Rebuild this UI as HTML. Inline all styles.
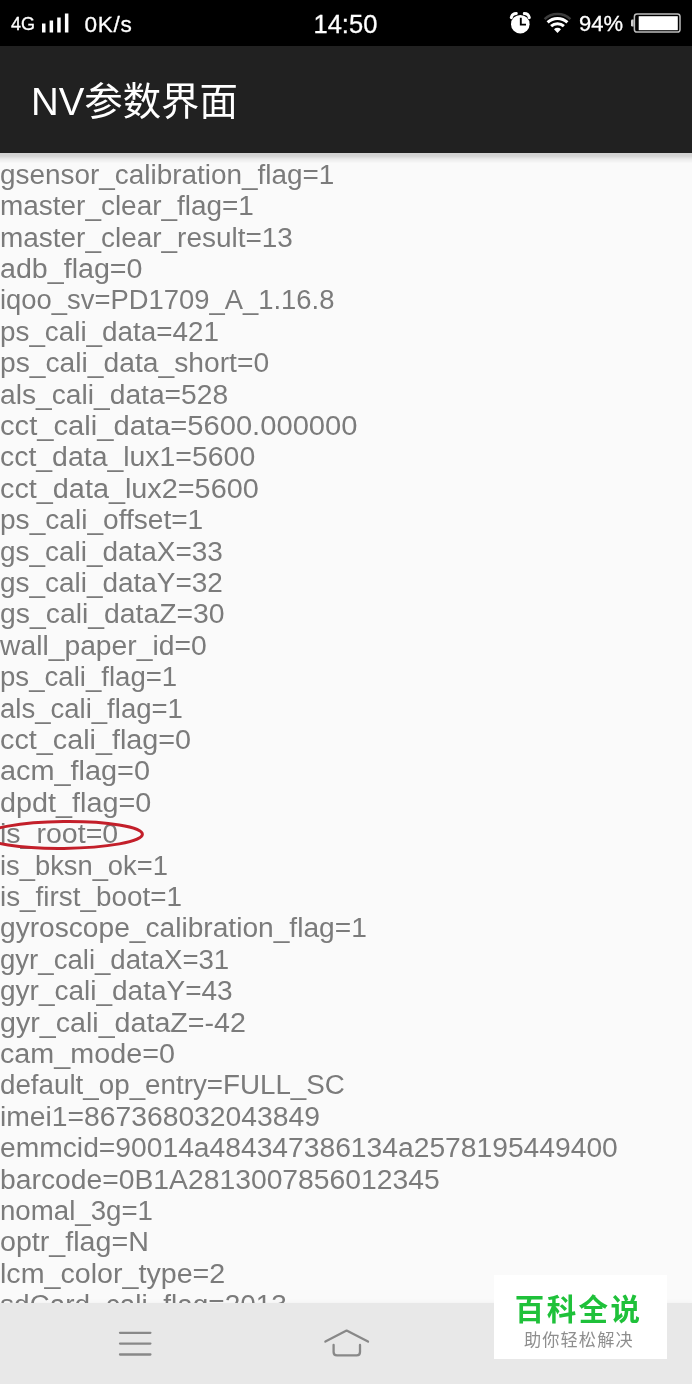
<!DOCTYPE html>
<html lang="zh-CN">
<head>
<meta charset="utf-8">
<title>NV参数界面</title>
<style>
html,body{margin:0;padding:0;}
body{width:692px;height:1384px;position:relative;overflow:hidden;background:#fafafa;font-family:"Liberation Sans","Noto Sans CJK SC",sans-serif;}
#status{position:absolute;left:0;top:0;width:692px;height:46px;background:#000;color:#fff;}
#status span{position:absolute;white-space:nowrap;line-height:1;-webkit-text-stroke:.3px #fff;}
#appbar{position:absolute;left:0;top:46px;width:692px;height:107.4px;background:#212121;}
#shadow{position:absolute;left:0;top:153.4px;width:692px;height:11px;background:linear-gradient(to bottom,rgba(0,0,0,.16) 0,rgba(0,0,0,.15) 3px,rgba(0,0,0,.06) 6px,rgba(0,0,0,0) 10.5px);}
#title{position:absolute;left:31px;top:30.3px;font-size:38.4px;line-height:52px;color:#fff;white-space:nowrap;}
#list,#title,#status span,#wm div{will-change:opacity;}
#list{position:absolute;left:0;top:0;width:692px;height:1303px;overflow:hidden;color:#7b7b7b;font-size:28.4px;line-height:31.4px;}
.r{position:absolute;left:-0.3px;white-space:nowrap;transform-origin:0 0;height:31.4px;}
#nav{position:absolute;left:0;top:1303.3px;width:692px;height:81px;background:#e8e8e8;box-shadow:0 -1px 5px rgba(0,0,0,.035);}
#wm{position:absolute;left:494px;top:1275px;width:173.4px;height:83.7px;background:#fff;}
#wm .a{position:absolute;left:0;width:175px;text-align:center;top:15.4px;left:-2.9px;font-size:29.5px;letter-spacing:2.4px;line-height:40px;font-weight:bold;color:#1fc13a;white-space:nowrap;}
#wm .b{position:absolute;left:-2.2px;width:174.1px;text-align:center;top:53.1px;font-size:17.2px;letter-spacing:1.1px;line-height:24px;color:#8e8e8e;white-space:nowrap;}
svg{position:absolute;left:0;top:0;overflow:visible;}
</style>
</head>
<body>
<div id="list">
<div class="r" style="top:158.80px;transform:scaleX(0.9831)">gsensor_calibration_flag=1</div>
<div class="r" style="top:190.20px;transform:scaleX(0.9840)">master_clear_flag=1</div>
<div class="r" style="top:221.60px;transform:scaleX(0.9846)">master_clear_result=13</div>
<div class="r" style="top:253.00px;transform:scaleX(1.0084)">adb_flag=0</div>
<div class="r" style="top:284.40px;transform:scaleX(0.9651)">iqoo_sv=PD1709_A_1.16.8</div>
<div class="r" style="top:315.80px;transform:scaleX(0.9800)">ps_cali_data=421</div>
<div class="r" style="top:347.20px;transform:scaleX(0.9941)">ps_cali_data_short=0</div>
<div class="r" style="top:378.60px;transform:scaleX(0.9931)">als_cali_data=528</div>
<div class="r" style="top:410.00px;transform:scaleX(1.0271)">cct_cali_data=5600.000000</div>
<div class="r" style="top:441.40px;transform:scaleX(1.0010)">cct_data_lux1=5600</div>
<div class="r" style="top:472.80px;transform:scaleX(1.0148)">cct_data_lux2=5600</div>
<div class="r" style="top:504.20px;transform:scaleX(0.9890)">ps_cali_offset=1</div>
<div class="r" style="top:535.60px;transform:scaleX(0.9840)">gs_cali_dataX=33</div>
<div class="r" style="top:567.00px;transform:scaleX(0.9840)">gs_cali_dataY=32</div>
<div class="r" style="top:598.40px;transform:scaleX(0.9986)">gs_cali_dataZ=30</div>
<div class="r" style="top:629.80px;transform:scaleX(0.9958)">wall_paper_id=0</div>
<div class="r" style="top:661.20px;transform:scaleX(0.9720)">ps_cali_flag=1</div>
<div class="r" style="top:692.60px;transform:scaleX(0.9696)">als_cali_flag=1</div>
<div class="r" style="top:724.00px;transform:scaleX(1.0132)">cct_cali_flag=0</div>
<div class="r" style="top:755.40px;transform:scaleX(1.0164)">acm_flag=0</div>
<div class="r" style="top:786.80px;transform:scaleX(1.0134)">dpdt_flag=0</div>
<div class="r" style="top:818.20px;transform:scaleX(1.0052)">is_root=0</div>
<div class="r" style="top:849.60px;transform:scaleX(0.9627)">is_bksn_ok=1</div>
<div class="r" style="top:881.00px;transform:scaleX(0.9808)">is_first_boot=1</div>
<div class="r" style="top:912.40px;transform:scaleX(0.9910)">gyroscope_calibration_flag=1</div>
<div class="r" style="top:943.80px;transform:scaleX(0.9713)">gyr_cali_dataX=31</div>
<div class="r" style="top:975.20px;transform:scaleX(0.9861)">gyr_cali_dataY=43</div>
<div class="r" style="top:1006.60px;transform:scaleX(1.0088)">gyr_cali_dataZ=-42</div>
<div class="r" style="top:1038.00px;transform:scaleX(1.0121)">cam_mode=0</div>
<div class="r" style="top:1069.40px;transform:scaleX(0.9775)">default_op_entry=FULL_SC</div>
<div class="r" style="top:1100.80px;transform:scaleX(0.9957)">imei1=867368032043849</div>
<div class="r" style="top:1132.20px;transform:scaleX(0.9945)">emmcid=90014a484347386134a2578195449400</div>
<div class="r" style="top:1163.60px;transform:scaleX(0.9965)">barcode=0B1A2813007856012345</div>
<div class="r" style="top:1195.00px;transform:scaleX(0.9734)">nomal_3g=1</div>
<div class="r" style="top:1226.40px;transform:scaleX(1.0090)">optr_flag=N</div>
<div class="r" style="top:1257.80px;transform:scaleX(1.0085)">lcm_color_type=2</div>
<div class="r" style="top:1289.20px;transform:scaleX(0.9852)">sdCard_cali_flag=2013</div>
<svg width="692" height="1303" viewBox="0 0 692 1303"><ellipse cx="63.7" cy="835" rx="78.7" ry="13.4" fill="none" stroke="#c31f2a" stroke-width="3" transform="rotate(-0.6 63.7 835)"/></svg>
</div>
<div id="shadow"></div>
<div id="appbar"><div id="title">NV参数界面</div></div>
<div id="status">
<span style="left:11px;top:15px;font-size:18px;">4G</span>
<span style="left:84.5px;top:13.5px;font-size:22.6px;letter-spacing:.7px;">0K/s</span>
<span style="left:313.5px;top:12px;font-size:25.5px;">14:50</span>
<span style="left:579px;top:13px;font-size:22px;">94%</span>
<svg width="692" height="46" viewBox="0 0 692 46">
<g fill="#fff">
<rect x="42" y="23.5" width="3.5" height="9"/>
<rect x="49.6" y="20.5" width="3.5" height="12"/>
<rect x="57.2" y="17.5" width="3.5" height="15"/>
<rect x="64.9" y="13.5" width="3.5" height="19"/>
</g>
<!-- alarm -->
<g>
<circle cx="520.3" cy="24.2" r="9.3" fill="#fff"/>
<path d="M511.3 17.6 A5.2 5.2 0 0 1 516.3 13.6" stroke="#fff" stroke-width="3" fill="none" stroke-linecap="round"/>
<path d="M524.3 13.6 A5.2 5.2 0 0 1 529.3 17.6" stroke="#fff" stroke-width="3" fill="none" stroke-linecap="round"/>
<path d="M520.8 17.8 V24.6 H526" stroke="#000" stroke-width="1.9" fill="none"/>
</g>
<!-- wifi -->
<g fill="none" stroke-linecap="butt">
<path d="M544.6 19.1 A19 19 0 0 1 570.4 19.1" stroke="#3c3c3c" stroke-width="2.6"/>
<path d="M547.6 22.4 A14.5 14.5 0 0 1 567.4 22.4" stroke="#fff" stroke-width="3"/>
<path d="M551.1 26.2 A9.4 9.4 0 0 1 563.9 26.2" stroke="#fff" stroke-width="3"/>
<path d="M557.5 33 L554 29.3 A5 5 0 0 1 561 29.3 Z" fill="#fff" stroke="none"/>
</g>
<!-- battery -->
<rect x="634.4" y="14" width="45.6" height="18" rx="2.6" fill="none" stroke="#bdbdbd" stroke-width="1.5"/>
<rect x="638.7" y="16.2" width="39.1" height="14" fill="#fff"/>
<path d="M633.6 19.6 h-1.2 a1.4 1.4 0 0 0 -1.4 1.4 v4.2 a1.4 1.4 0 0 0 1.4 1.4 h1.2 z" fill="#d0d0d0"/>
</svg>
</div>
<div id="nav">
<svg width="692" height="81" viewBox="0 1303 692 81" fill="none" stroke="#888" stroke-width="2.3" stroke-linecap="round" stroke-linejoin="round">
<path d="M120 1332.8 H150.4 M120 1343.6 H150.4 M120 1354.5 H150.4"/>
<path d="M325.4 1341.6 L346.6 1330.6 L368 1341.6"/>
<path d="M333.6 1345 V1352 Q333.6 1355.4 337 1355.4 H356.6 Q360 1355.4 360 1352 V1345"/>
</svg>
</div>
<div id="wm"><div class="a">百科全说</div><div class="b">助你轻松解决</div></div>
</body>
</html>
